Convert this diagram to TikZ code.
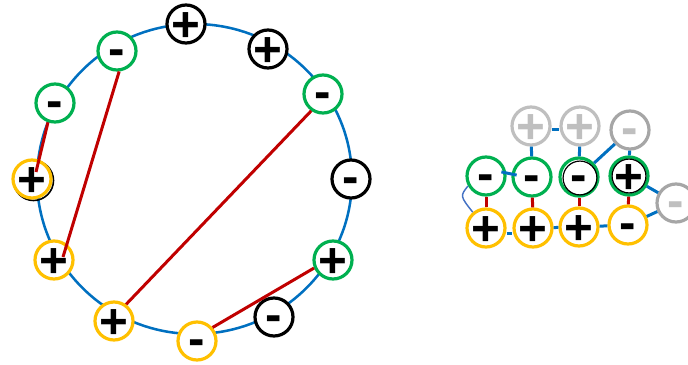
\documentclass[tikz,border=0pt]{standalone}
\usepackage{fontspec}
\setsansfont{Liberation Sans}
\usetikzlibrary{calc}
\definecolor{cblue}{HTML}{0070C0}
\definecolor{cred}{HTML}{C00000}
\definecolor{cgreen}{HTML}{00B050}
\definecolor{cyellow}{HTML}{FFC000}
\definecolor{cgrayA}{HTML}{BFBFBF}
\definecolor{cgrayB}{HTML}{A6A6A6}
\definecolor{cthin}{HTML}{4472C4}
\begin{document}
\begin{tikzpicture}[x=0.75pt,y=-0.75pt,
  ring/.style={circle, draw, fill=white, line width=2.4pt, minimum size=28.5pt, inner sep=0pt},
  sgnbase/.style={font=\sffamily\bfseries\fontsize{37}{37}\selectfont, inner sep=0pt, text depth=0pt},
  plussign/.style={sgnbase, text height=25.9pt},
  minussign/.style={sgnbase, text height=22.2pt},
  bigring/.style={cblue, line width=1.9pt},
  redlink/.style={cred, line width=2.25pt},
  bluelink/.style={cblue, line width=2.25pt},
  thinlink/.style={cthin, line width=1.1pt}
]
\useasboundingbox (0,0) rectangle (688,364);

% ---------- left: ring ----------
\draw[bigring] (194.5,179) ellipse [x radius=118.1pt, y radius=116.25pt];

\draw[black, line width=1.2pt] (33.5,180.5) circle [radius=15pt];

\node[ring, draw=black]   (a1)  at (186,24)  {};
\node[plussign]           (a1s) at (a1) {+};
\node[ring, draw=black]   (a2)  at (268,49)  {};
\node[plussign]           (a2s) at (a2) {+};
\node[ring, draw=cgreen]  (a3)  at (323,94)  {};
\node[minussign]          (a3s) at (a3) {-};
\node[ring, draw=black]   (a4)  at (351,179) {};
\node[minussign]          (a4s) at (a4) {-};
\node[ring, draw=cgreen]  (a5)  at (333,260) {};
\node[plussign]           (a5s) at (a5) {+};
\node[ring, draw=black]   (a6)  at (274,317) {};
\node[minussign]          (a6s) at (a6) {-};
\node[ring, draw=cyellow] (a7)  at (197,341) {};
\node[minussign]          (a7s) at (a7) {-};
\node[ring, draw=cyellow] (a8)  at (114,321) {};
\node[plussign]           (a8s) at (a8) {+};
\node[ring, draw=cyellow] (a9)  at (54,260)  {};
\node[plussign]           (a9s) at (a9) {+};
\node[ring, draw=cyellow] (a10) at (32,179)  {};
\node[plussign]           (a10s) at (a10) {+};
\node[ring, draw=cgreen]  (a11) at (55,103)  {};
\node[minussign]          (a11s) at (a11) {-};
\node[ring, draw=cgreen]  (a12) at (117,51)  {};
\node[minussign]          (a12s) at (a12) {-};

\draw[redlink] (a11.250) -- ($(a10)+(4,-7)$);
\draw[redlink] (a12.-84) -- ($(a9)+(9,-3)$);
\draw[redlink] (a3.235) -- (a8.54);
\draw[redlink] (a5.203) -- (a7.41);

% ---------- right: ladder ----------
\node[ring, draw=cgrayA]  (gp1) at (531,126) {};
\node[plussign, text=cgrayA] (gp1s) at (gp1) {+};
\node[ring, draw=cgrayA]  (gp2) at (580,126) {};
\node[plussign, text=cgrayA] (gp2s) at (gp2) {+};
\node[ring, draw=cgrayB]  (gm1) at (630,130) {};
\node[minussign, text=cgrayA] (gm1s) at (gm1) {-};
\node[ring, draw=cgrayB]  (gm2) at (676,203) {};
\node[minussign, text=cgrayA] (gm2s) at (gm2) {-};

\node[ring, draw=cgreen]  (g1) at (486,176) {};
\node[minussign]          (g1s) at (g1) {-};
\node[ring, draw=cgreen]  (g2) at (532,177) {};
\node[minussign]          (g2s) at (g2) {-};
\node[ring, draw=cgreen]  (g3) at (579,177) {};
\node[minussign]          (g3s) at (g3) {-};
\node[ring, draw=cgreen]  (g4) at (629,176) {};
\node[plussign]           (g4s) at (g4) {+};
\draw[black, line width=0.9pt] ($(g3)+(1,1)$) circle [radius=12.7pt];
\draw[black, line width=0.9pt] (g4) circle [radius=12.7pt];

\node[ring, draw=cyellow] (y1) at (486,228) {};
\node[plussign]           (y1s) at (y1) {+};
\node[ring, draw=cyellow] (y2) at (533,228) {};
\node[plussign]           (y2s) at (y2) {+};
\node[ring, draw=cyellow] (y3) at (579,227) {};
\node[plussign]           (y3s) at (y3) {+};
\node[ring, draw=cyellow] (y4) at (628,225) {};
\node[minussign]          (y4s) at (y4) {-};

\draw[bluelink] ([yshift=-2.25pt]gp1.east) -- ([yshift=-2.25pt]gp2.west);
\draw[bluelink] (gp1) -- (g2);
\draw[bluelink] (gp2) -- (g3);
\draw[bluelink] (gm1) -- (g4);
\draw[bluelink] (gm1) -- (g3);
\draw[bluelink, shorten <=-4pt, shorten >=-4pt] ([yshift=2.25pt]g1.east) -- ([yshift=2.25pt]g2.west);
\draw[bluelink] (g4) -- (gm2);
\draw[bluelink] (y4) -- (gm2);
\draw[bluelink] ([yshift=-3.75pt]y1.east) -- ([yshift=-3.75pt]y2.west);
\draw[bluelink] (y2) -- (y3);
\draw[bluelink] (y3) -- (y4);
\draw[thinlink] (g1.209) .. controls (460,196) .. (y1.130);

\draw[redlink] (g1) -- (y1);
\draw[redlink] (g2) -- (y2);
\draw[redlink] (g3) -- (y3);
\draw[redlink] (g4) -- (y4);
\end{tikzpicture}
\end{document}
